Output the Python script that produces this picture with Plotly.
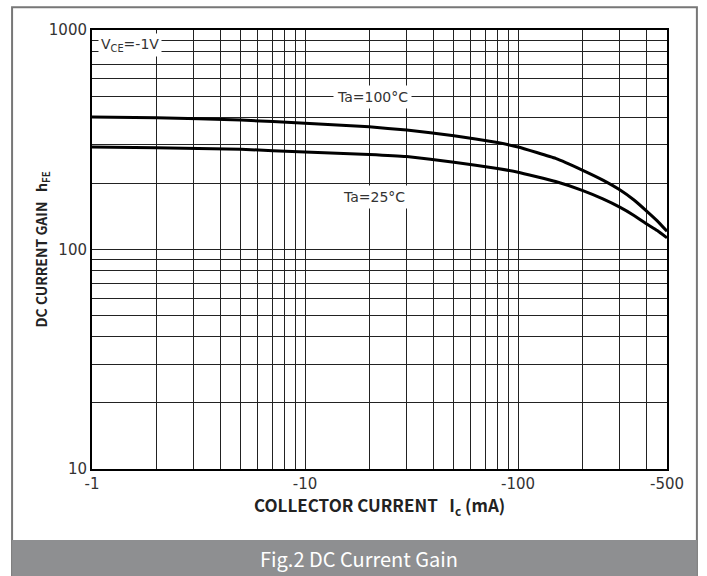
import plotly.graph_objects as go

# Data (collector current magnitude in mA, hFE)
ic_ma = [1, 2, 5, 10, 20, 30, 50, 80, 100, 150, 200, 250, 300, 350, 400, 450, 500]
hfe_100c = [401, 398, 389, 376, 362, 350, 330, 307, 293, 260, 230, 207, 187, 168, 150, 135, 121]
hfe_25c = [293, 291, 286, 278, 271, 265, 250, 234, 225, 204, 186, 170, 156, 143, 131, 122, 113]

x_grid = [1, 2, 3, 4, 5, 6, 7, 8, 9, 10, 20, 30, 40, 50, 60, 70, 80, 90, 100, 200, 300, 400, 500]
x_labels = {1: "-1", 10: "-10", 100: "-100", 500: "-500"}
y_grid = [10, 20, 30, 40, 50, 60, 70, 80, 90, 100, 200, 300, 400, 500, 600, 700, 800, 900, 1000]
y_labels = {10: "10", 100: "100", 1000: "1000"}

fig = go.Figure()
for name, vals in [("Ta=100°C", hfe_100c), ("Ta=25°C", hfe_25c)]:
    fig.add_trace(go.Scatter(x=ic_ma, y=vals, mode="lines", name=name,
                             line=dict(color="black", width=3, shape="spline", smoothing=0.3),
                             showlegend=False, hoverinfo="skip"))

grid_col = "#222222"
tick_font = dict(family="DejaVu Sans", size=15, color="#333333")
fig.update_xaxes(type="log", range=[0, 2.69897], tickvals=x_grid,
                 ticktext=[x_labels.get(v, "") for v in x_grid],
                 showgrid=True, gridcolor=grid_col, gridwidth=1,
                 showline=True, linecolor="black", linewidth=2, mirror=True,
                 ticks="", zeroline=False, automargin=False, tickfont=tick_font)
fig.update_yaxes(type="log", range=[1, 3], tickvals=y_grid,
                 ticktext=[y_labels.get(v, "") for v in y_grid],
                 showgrid=True, gridcolor=grid_col, gridwidth=1,
                 showline=True, linecolor="black", linewidth=2, mirror=True,
                 ticks="", zeroline=False, automargin=False, tickfont=tick_font)

fig.add_annotation(x=0.5, y=-0.084, xref="paper", yref="paper",
                   text="COLLECTOR CURRENT\u00a0\u00a0\u00a0I<sub>c</sub>\u00a0(mA)", showarrow=False,
                   yanchor="middle",
                   font=dict(family="Noto Sans CJK SC", size=17, color="#222222", weight="bold"))
fig.add_annotation(x=-0.087, y=0.5, xref="paper", yref="paper",
                   text="DC CURRENT GAIN\u00a0\u00a0\u00a0h<sub>FE</sub>", showarrow=False,
                   textangle=-90, xanchor="center", yanchor="middle",
                   font=dict(family="Noto Sans CJK SC", size=14, color="#222222", weight="bold"))

ann_font = dict(family="DejaVu Sans", size=14, color="#333333")
fig.add_annotation(x=0.176, y=2.932, xref="x", yref="y", text="V<sub>CE</sub>=-1V",
                   showarrow=False, bgcolor="white", font=ann_font, borderpad=2)
fig.add_annotation(x=1.315, y=2.696, xref="x", yref="y", text="Ta=100°C",
                   showarrow=False, bgcolor="white", font=ann_font, borderpad=3)
fig.add_annotation(x=1.322, y=2.239, xref="x", yref="y", text="Ta=25°C",
                   showarrow=False, bgcolor="white", font=ann_font, borderpad=3)

# Outer frame and caption band
fig.add_shape(type="rect", xref="paper", yref="paper", x0=-0.139, x1=1.052, y0=-0.246, y1=1.052,
              line=dict(color="#777777", width=2), fillcolor="rgba(0,0,0,0)", layer="below")
fig.add_shape(type="rect", xref="paper", yref="paper", x0=-0.139, x1=1.052, y0=-0.246, y1=-0.162,
              line=dict(width=0), fillcolor="#8e8f91", layer="below")
fig.add_annotation(x=0.465, y=-0.203, xref="paper", yref="paper", text="Fig.2 DC Current Gain",
                   showarrow=False, yanchor="middle",
                   font=dict(family="Noto Sans CJK SC", size=20, color="white"))

fig.update_layout(width=707, height=576, margin=dict(l=92, r=40, t=30, b=107, autoexpand=False),
                  plot_bgcolor="white", paper_bgcolor="white")
fig.write_html("out.html", config={"displayModeBar": False},
               post_script="document.body.style.margin='0px';document.body.style.overflow='hidden';")
